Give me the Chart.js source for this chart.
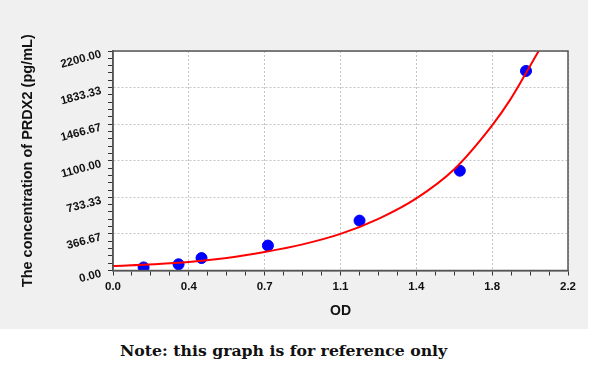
<!DOCTYPE html>
<html>
<head>
<meta charset="utf-8">
<script src="https://cdn.jsdelivr.net/npm/chart.js@4/dist/chart.umd.min.js"></script>
<style>
  html, body { margin: 0; padding: 0; background: #fff; }
  #panel { position: absolute; left: 0; top: 0; width: 588px; height: 329px; background: #f0f0f0; }
  #note { position: absolute; left: 120px; top: 341px; font: bold 15.7px "DejaVu Serif", serif; line-height: 20px; color: #111; white-space: nowrap; }
</style>
</head>
<body>
<div id="panel"><canvas id="std" width="588" height="329"></canvas></div>
<div id="note">Note: this graph is for reference only</div>
<script>
// standard points
const odValues = [0.148, 0.317, 0.428, 0.749, 1.192, 1.677, 1.997];
const concValues = [31.25, 62.5, 125, 250, 500, 1000, 2000];

// fitted curve
const curveOD = [0, 0.2, 0.3667, 0.55, 0.7333, 0.9167, 1.1, 1.2833, 1.4667, 1.65, 1.8333, 1.92, 2.0, 2.061];
const curveConc = [45, 63, 85, 125, 185, 262, 367, 518, 723, 1015, 1455, 1710, 1990, 2210];

const xTickLabels = ["0.0", "0.4", "0.7", "1.1", "1.4", "1.8", "2.2"];
const yTickLabels = ["0.00", "366.67", "733.33", "1100.00", "1466.67", "1833.33", "2200.00"];

const X_MAX = 2.2, Y_MAX = 2200;
const X_SUB = 4, Y_SUB = 5;

function makeTicks(max, majors, sub) {
  const n = majors * sub;
  const out = [];
  for (let i = 0; i <= n; i++) out.push({ value: max * i / n });
  return out;
}

const frame = {
  id: "frame",
  beforeDraw(chart) {
    const a = chart.chartArea, ctx = chart.ctx;
    ctx.save();
    ctx.fillStyle = "#ffffff";
    ctx.fillRect(a.left, a.top, a.right - a.left, a.bottom - a.top);
    ctx.restore();
  },
  afterDraw(chart) {
    const a = chart.chartArea, ctx = chart.ctx;
    ctx.save();
    ctx.strokeStyle = "#555";
    ctx.lineWidth = 1.5;
    ctx.strokeRect(a.left, a.top, a.right - a.left, a.bottom - a.top);
    ctx.restore();
  }
};

const gridColor = sub => c => {
  if (!c.tick) return "transparent";
  const i = c.index;
  if (i % sub !== 0 || i === 0) return "transparent";
  return "#c4c4c4";
};

new Chart(document.getElementById("std").getContext("2d"), {
  type: "scatter",
  data: {
    datasets: [
      {
        type: "line",
        data: curveOD.map((x, i) => ({ x: x, y: curveConc[i] })),
        borderColor: "#ff0000",
        borderWidth: 2,
        pointRadius: 0,
        cubicInterpolationMode: "monotone",
        fill: false,
        clip: true
      },
      {
        data: odValues.map((x, i) => ({ x: x, y: concValues[i] })),
        backgroundColor: "#0000ff",
        borderColor: "#0000ff",
        pointRadius: 5.5,
        pointHoverRadius: 5.5
      }
    ]
  },
  options: {
    responsive: false,
    animation: false,
    events: [],
    layout: { padding: { left: 0, right: 20, top: 51, bottom: 0 } },
    plugins: { legend: { display: false }, tooltip: { enabled: false } },
    scales: {
      x: {
        type: "linear",
        min: 0,
        max: X_MAX,
        afterBuildTicks: s => { s.ticks = makeTicks(X_MAX, 6, X_SUB); },
        afterFit: s => { s.height = 58.5; },
        ticks: {
          autoSkip: false,
          maxRotation: 0,
          padding: 4,
          color: "#111",
          font: { family: "Liberation Sans", size: 11.5, weight: "bold" },
          callback: (v, i) => (i % X_SUB === 0 ? xTickLabels[i / X_SUB] : "")
        },
        grid: { color: gridColor(X_SUB), tickColor: "#333", tickLength: 5, tickBorderDash: [] },
        border: { color: "#555", width: 1.5, dash: [2, 2] },
        title: {
          display: true,
          text: "OD",
          color: "#111",
          font: { family: "Liberation Sans", size: 14, weight: "bold" },
          padding: { top: 0, bottom: 9 }
        }
      },
      y: {
        type: "linear",
        min: 0,
        max: Y_MAX,
        afterBuildTicks: s => { s.ticks = makeTicks(Y_MAX, 6, Y_SUB); },
        afterFit: s => { s.width = 113; },
        ticks: {
          autoSkip: false,
          minRotation: 15,
          maxRotation: 15,
          padding: 7,
          labelOffset: 3,
          color: "#111",
          font: { family: "Liberation Sans", size: 11.5, weight: "bold" },
          callback: (v, i) => (i % Y_SUB === 0 ? yTickLabels[i / Y_SUB] : "")
        },
        grid: { color: gridColor(Y_SUB), tickColor: "#333", tickLength: 5, tickBorderDash: [] },
        border: { color: "#555", width: 1.5, dash: [2, 2] },
        title: {
          display: true,
          text: "The concentration of PRDX2 (pg/mL)",
          color: "#111",
          font: { family: "Liberation Sans", size: 14.5, weight: "bold" },
          padding: { top: 19, bottom: 0 }
        }
      }
    }
  },
  plugins: [frame]
});
</script>
</body>
</html>
